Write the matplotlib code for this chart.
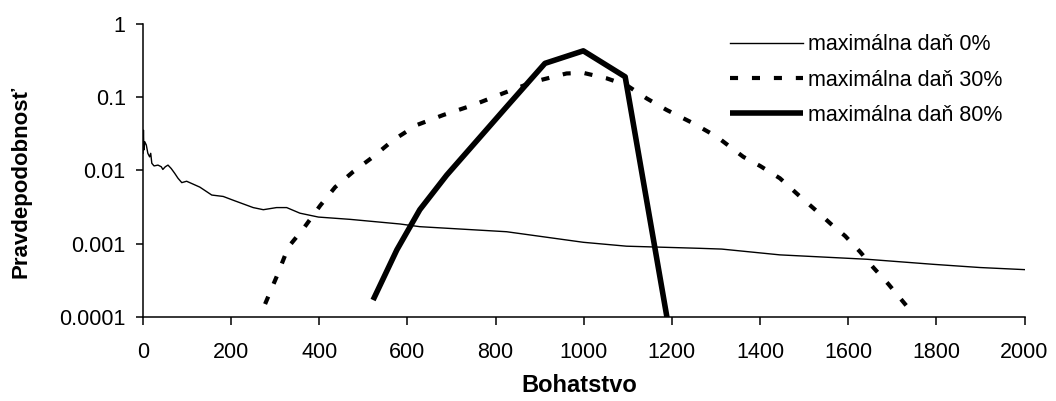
import numpy as np
import matplotlib
matplotlib.use("Agg")
import matplotlib.pyplot as plt
from matplotlib.ticker import NullLocator

plt.rcParams['font.family'] = ['Liberation Sans', 'DejaVu Sans']
plt.rcParams['lines.scale_dashes'] = False

# maximálna daň 0%
bohat_0 = [0, 1, 2, 4, 7.5, 11, 15, 17.5, 20, 25, 34, 41.5, 45, 50.6, 56.7, 64, 72, 79.4,
           88, 99, 129, 156, 182, 205, 250, 273, 303, 326, 356, 398, 470, 583, 628,
           825, 999, 1097, 1264, 1313, 1445, 1642, 1793, 1899, 2000]
prob_0 = [0.0172, 0.0355, 0.019, 0.0246, 0.0222, 0.0171, 0.0153, 0.0171, 0.0125, 0.0115,
          0.0118, 0.0112, 0.0103, 0.0112, 0.0118, 0.0106, 0.0091, 0.0078,
          0.0068, 0.0071, 0.0059, 0.0046, 0.0044, 0.0039, 0.0031, 0.0029, 0.0031, 0.0031,
          0.0026, 0.0023, 0.00214, 0.00185, 0.0017,
          0.00145, 0.00104, 0.00092, 0.00086, 0.00084, 0.0007, 0.00061, 0.00052, 0.00047, 0.00044]

# maximálna daň 30%
bohat_30 = [277, 303, 330, 364, 402, 436, 477, 522, 568, 621, 681, 749, 817, 886, 961, 999,
            1052, 1097, 1143, 1188, 1249, 1302, 1362, 1400, 1445, 1487, 1525, 1563, 1593,
            1627, 1657, 1691, 1739]
prob_30 = [0.000149, 0.00035, 0.0009, 0.0016, 0.0033, 0.0059, 0.0096, 0.0153, 0.026, 0.0416,
           0.057, 0.078, 0.113, 0.162, 0.211, 0.215,
           0.181, 0.146, 0.096, 0.067, 0.0438, 0.0288, 0.0153, 0.0115, 0.0078, 0.0046,
           0.0029, 0.0018, 0.00127, 0.00077, 0.00047, 0.00028, 0.000126]

# maximálna daň 80%
bohat_80 = [522, 576, 628, 689, 825, 912, 999, 1094, 1200]
prob_80 = [0.000169, 0.00082, 0.0029, 0.0086, 0.074, 0.29, 0.43, 0.19, 0.00004]

labels = ['maximálna daň 0%', 'maximálna daň 30%', 'maximálna daň 80%']
xticks = [0, 200, 400, 600, 800, 1000, 1200, 1400, 1600, 1800, 2000]
yticks = [1, 0.1, 0.01, 0.001, 0.0001]
ytick_labels = ['1', '0.1', '0.01', '0.001', '0.0001']

fig = plt.figure(figsize=(10.56, 4.01), dpi=100)
ax = fig.add_axes([143 / 1056, 0.2102, 881.5 / 1056, 0.7299])

l0, = ax.plot(bohat_0, prob_0, color='black', lw=1.0, label=labels[0])
l30, = ax.plot(bohat_30, prob_30, color='black', lw=3.0, dashes=(5.8, 10), label=labels[1])
l80, = ax.plot(bohat_80, prob_80, color='black', lw=4.0, solid_capstyle='butt', label=labels[2])

ax.set_yscale('log')
ax.set_xlim(0, 2000)
ax.set_ylim(0.0001, 1)
ax.set_xticks(xticks)
ax.set_yticks(yticks, labels=ytick_labels)
ax.yaxis.set_minor_locator(NullLocator())

for s in ['top', 'right']:
    ax.spines[s].set_visible(False)
for s in ['left', 'bottom']:
    ax.spines[s].set_linewidth(1.1)

ax.tick_params(axis='x', direction='out', length=5.8, width=1.1, pad=12.5, labelsize=15.5)
ax.tick_params(axis='y', direction='out', length=5.0, width=1.1, pad=7.5, labelsize=15.5)

ax.set_xlabel('Bohatstvo', fontsize=17, fontweight='bold')
ax.set_ylabel('Pravdepodobnosť', fontsize=16, fontweight='bold')
ax.xaxis.set_label_coords(0.495, -0.196)
ax.yaxis.set_label_coords(-0.126, 0.459)

fig.legend(handles=[l0, l30, l80], loc='upper left', bbox_to_anchor=(730 / 1056, 0.915),
           frameon=False, fontsize=15.5, borderpad=0, borderaxespad=0,
           handlelength=3.4, handletextpad=0.23, labelspacing=0.67)

fig.savefig('out.png', dpi=100)
